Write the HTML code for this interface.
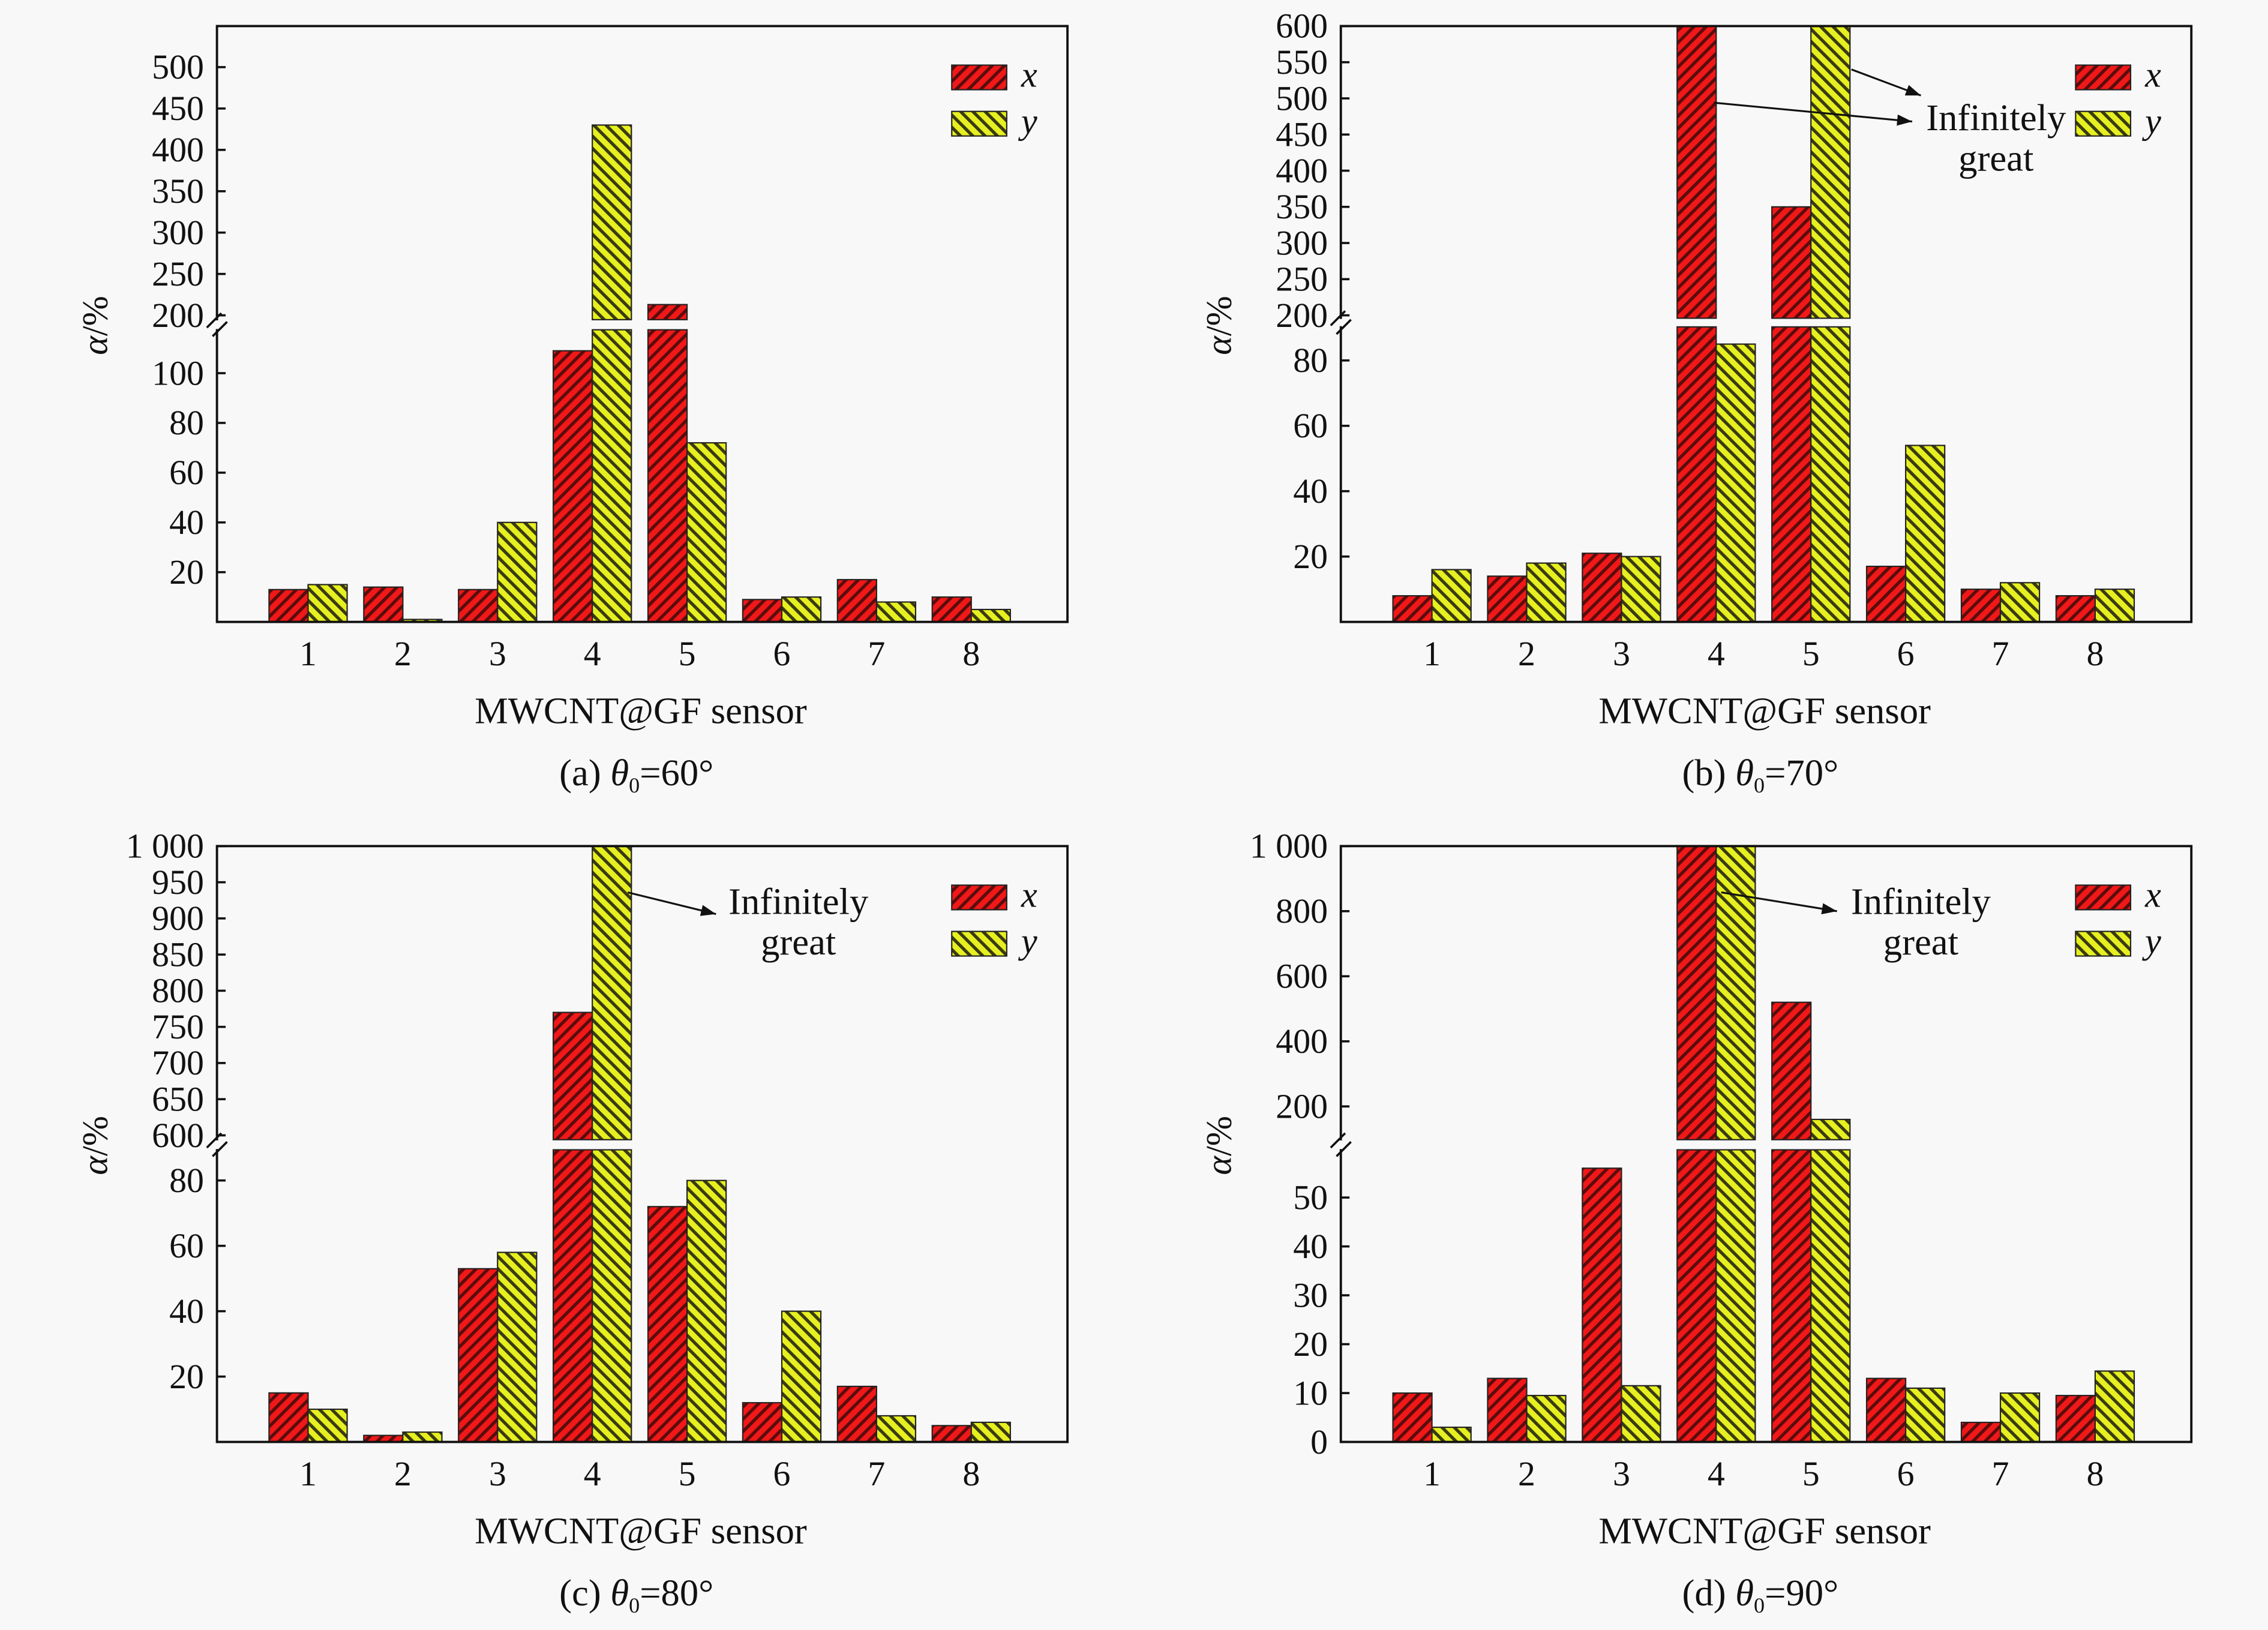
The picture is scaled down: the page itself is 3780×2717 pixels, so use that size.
<!DOCTYPE html>
<html><head><meta charset="utf-8"><style>
html,body{margin:0;padding:0;background:#f8f8f8}
svg{display:block}
text{font-family:"Liberation Serif",serif;fill:#111}
</style></head><body>
<svg id="fig" width="3780" height="2717" viewBox="0 0 1568 1127" xmlns="http://www.w3.org/2000/svg">
<defs>
<pattern id="pr" patternUnits="userSpaceOnUse" width="6" height="6" patternTransform="rotate(45)">
<rect width="6" height="6" fill="#f01818"/><rect width="2.2" height="6" fill="#5a0c0c"/></pattern>
<pattern id="py" patternUnits="userSpaceOnUse" width="6" height="6" patternTransform="rotate(-45)">
<rect width="6" height="6" fill="#e6f020"/><rect width="2.2" height="6" fill="#3a3a12"/></pattern>
<marker id="ah" markerWidth="8" markerHeight="6" refX="8" refY="3" orient="auto"><path d="M0,0 L8,3 L0,6z" fill="#111"/></marker>
</defs>
<rect width="1568" height="1127" fill="#f8f8f8"/>
</svg>
<script>
const categories=[1,2,3,4,5,6,7,8];
const xA=[13,14,13,109,213,9,17,10];
const yA=[15,1,40,430,72,10,8,5];
const xB=[8,14,21,Infinity,350,17,10,8];
const yB=[16,18,20,85,Infinity,54,12,10];
const xC=[15,2,53,770,72,12,17,5];
const yC=[10,3,58,Infinity,80,40,8,6];
const xD=[10,13,56,Infinity,520,13,4,9.5];
const yD=[3,9.5,11.5,Infinity,160,11,10,14.5];
const lowTicksA=[20,40,60,80,100], upTicksA=[200,250,300,350,400,450,500];
const lowTicksB=[20,40,60,80], upTicksB=[200,250,300,350,400,450,500,550,600];
const lowTicksC=[20,40,60,80], upTicksC=[600,650,700,750,800,850,900,950,1000];
const lowTicksD=[0,10,20,30,40,50], upTicksD=[200,400,600,800,1000];
const captions=["(a) ","(b) ","(c) ","(d) "];
const angles=["60°","70°","80°","90°"];

const NS="http://www.w3.org/2000/svg";
const svg=document.getElementById('fig');
function mk(tag,attrs,parent){const e=document.createElementNS(NS,tag);for(const k in attrs)e.setAttribute(k,attrs[k]);(parent||svg).appendChild(e);return e;}
function fmt(v){return v>=1000?(Math.floor(v/1000)+" "+String(v%1000).padStart(3,'0')):String(v);}

function panel(p){
  const g=mk('g',{});
  
  
  const L=p.left,R=p.left+588,T=p.top,B=p.top+412;
  const yLow=v=>B-v*p.lowK;
  const yUp=v=>p.upY0-(v-p.upV0)*p.upK;
  const xc=i=>L+63+(i)*65.5;
  const bw=27;
  const series=[[p.xs,'url(#pr)','x'],[p.ys,'url(#py)','y']];
  series.forEach((s,si)=>{
    s[0].forEach((v,i)=>{
      const x0=xc(i)-bw+si*bw;
      let pieces=[];
      if(v<=p.lowMaxV){pieces.push([yLow(v),B]);}
      else{
        pieces.push([p.lowTop,B]);
        const top=isFinite(v)?Math.max(T,yUp(v)):T;
        pieces.push([top,p.upBot]);
      }
      pieces.forEach((pc,k)=>{
        const r=mk('rect',{x:x0,y:pc[0],width:bw,height:Math.max(0,pc[1]-pc[0]),fill:s[1],stroke:'#222','stroke-width':0.9},g);
        
        
      });
    });
  });
  const f=mk('rect',{x:L,y:T,width:588,height:412,fill:'none',stroke:'#111','stroke-width':1.6},g);
  
  
  const by=(p.lowTop+p.upBot)/2;
  mk('rect',{x:L-4,y:p.upBot+0.5,width:8,height:p.lowTop-p.upBot-1,fill:'#f8f8f8'},g);
  const br=mk('path',{d:`M${L-7},${by+2} L${L+3},${by-8} M${L-3},${by+8} L${L+7},${by-2}`,stroke:'#111','stroke-width':1.5,fill:'none'},g);
  
  
  p.lowT.forEach(v=>{
    const y=yLow(v);
    mk('line',{x1:L,x2:L+6,y1:y,y2:y,stroke:'#111','stroke-width':1.5},g);
    const t=mk('text',{x:L-9,y:y+8,'text-anchor':'end','font-size':24},g);t.textContent=fmt(v);
    
    
  });
  p.upT.forEach(v=>{
    const y=yUp(v);
    mk('line',{x1:L,x2:L+6,y1:y,y2:y,stroke:'#111','stroke-width':1.5},g);
    const t=mk('text',{x:L-9,y:y+8,'text-anchor':'end','font-size':24},g);t.textContent=fmt(v);
    
    
  });
  categories.forEach((c,i)=>{
    const t=mk('text',{x:xc(i),y:B+30,'text-anchor':'middle','font-size':24},g);t.textContent=c;
    
    
  });
  const xl=mk('text',{x:L+293,y:B+70,'text-anchor':'middle','font-size':26},g);xl.textContent='MWCNT@GF sensor';
  
  
  const cap=mk('text',{x:L+290,y:B+113,'text-anchor':'middle','font-size':26},g);
  cap.innerHTML=captions[p.n]+'<tspan font-style="italic">θ</tspan><tspan font-size="15" dy="5">0</tspan><tspan dy="-5">='+angles[p.n]+'</tspan>';
  
  
  const yl=mk('text',{x:0,y:0,'text-anchor':'middle','font-size':25,transform:`translate(${L-76},${T+207}) rotate(-90)`},g);
  yl.innerHTML='<tspan font-style="italic">α</tspan>/%';
  
  
  [['url(#pr)','x',27],['url(#py)','y',59]].forEach(l=>{
    const lr=mk('rect',{x:R-80,y:T+l[2],width:38,height:17,fill:l[0],stroke:'#222','stroke-width':0.9},g);
    
    
    const lt=mk('text',{x:R-32,y:T+l[2]+15,'font-size':25,'font-style':'italic'},g);lt.textContent=l[1];
    
    
  });
  if(p.ann){
    const a=p.ann;
    const t1=mk('text',{x:a.x,y:a.y,'text-anchor':'middle','font-size':26},g);t1.textContent='Infinitely';
    
    
    const t2=mk('text',{x:a.x,y:a.y+28,'text-anchor':'middle','font-size':26},g);t2.textContent='great';
    
    
    a.arrows.forEach(ar=>{
      const ln=mk('line',{x1:ar[0],y1:ar[1],x2:ar[2],y2:ar[3],stroke:'#111','stroke-width':1.3,'marker-end':'url(#ah)'},g);
      
      
    });
  }
}
panel({id:'a',n:0,left:150,top:18,xs:xA,ys:yA,lowK:1.72,lowMaxV:117,lowTop:228,upBot:221,upY0:218,upV0:200,upK:0.572,lowT:lowTicksA,upT:upTicksA});
panel({id:'b',n:1,left:927,top:18,xs:xB,ys:yB,lowK:2.26,lowMaxV:90,lowTop:226,upBot:220,upY0:218,upV0:200,upK:0.5,lowT:lowTicksB,upT:upTicksB,
  ann:{x:1380,y:90,arrows:[[1185,71,1322,84],[1280,48,1328,66]]}});
panel({id:'c',n:2,left:150,top:585,xs:xC,ys:yC,lowK:2.26,lowMaxV:89,lowTop:795,upBot:788,upY0:785,upV0:600,upK:0.5,lowT:lowTicksC,upT:upTicksC,
  ann:{x:552,y:632,arrows:[[434,617,495,632]]}});
panel({id:'d',n:3,left:927,top:585,xs:xD,ys:yD,lowK:3.38,lowMaxV:59,lowTop:795,upBot:788,upY0:765,upV0:200,upK:0.225,lowT:lowTicksD,upT:upTicksD,
  ann:{x:1328,y:632,arrows:[[1190,617,1270,630]]}});
</script>
</body></html>
